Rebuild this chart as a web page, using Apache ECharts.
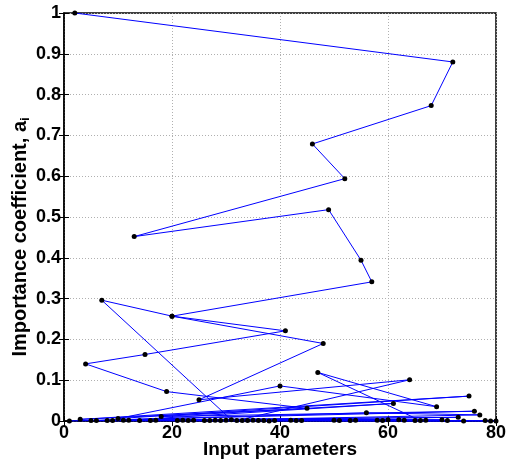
<!DOCTYPE html>
<html>
<head>
<meta charset="utf-8">
<title>Importance coefficient</title>
<script src="https://cdn.jsdelivr.net/npm/echarts@6/dist/echarts.min.js"></script>
<style>
  html, body { margin: 0; padding: 0; background: #fff; }
  #chart { width: 506px; height: 460px; }
</style>
</head>
<body>
<div id="chart"></div>
<script>
// input parameter index, in plotting order
var paramIndex = [
  2, 72, 68, 46, 52, 13, 49, 55, 57, 20,
  41, 15, 4, 19, 45, 3, 75, 10, 40, 69,
  47, 66, 1, 76, 18, 61, 12, 32, 64, 25,
  48, 20, 7, 31, 77, 56, 5, 73, 8, 74,
  28, 80, 6, 62, 9, 79, 11, 70, 14, 63,
  16, 78, 17, 67, 21, 65, 22, 71, 23, 60,
  24, 59, 26, 58, 27, 54, 29, 53, 30, 51,
  33, 50, 34, 44, 35, 43, 36, 42, 37, 39, 38
];
// importance coefficient a_i
var importance = [
  1.000, 0.880, 0.773, 0.679, 0.594, 0.452, 0.518, 0.394, 0.341, 0.257,
  0.221, 0.163, 0.140, 0.072, 0.031, 0.004, 0.061, 0.006, 0.086, 0.035,
  0.119, 0.001, 0.000, 0.024, 0.011, 0.043, 0.002, 0.001, 0.101, 0.052,
  0.190, 0.257, 0.296, 0.003, 0.015, 0.020, 0.001, 0.009, 0.001, 0.000,
  0.002, 0.000, 0.001, 0.003, 0.001, 0.000, 0.002, 0.003, 0.001, 0.002,
  0.001, 0.001, 0.002, 0.002, 0.001, 0.001, 0.002, 0.001, 0.001, 0.003,
  0.002, 0.001, 0.001, 0.002, 0.001, 0.002, 0.001, 0.001, 0.002, 0.001,
  0.001, 0.002, 0.001, 0.001, 0.002, 0.001, 0.001, 0.002, 0.001, 0.001, 0.000
];

var points = paramIndex.map(function (x, i) { return [x, importance[i]]; });

var chart = echarts.init(document.getElementById('chart'));
var font = 'Liberation Sans, Arial, sans-serif';
var tickStyle = { inside: true, length: 5, lineStyle: { color: '#000', width: 1 } };

chart.setOption({
  animation: false,
  backgroundColor: '#fff',
  grid: {
    left: 64, right: 10, top: 13, bottom: 39,
    outerBoundsMode: 'none', containLabel: false,
    show: true, borderColor: '#000', borderWidth: 1.5
  },
  xAxis: [{
    type: 'value', min: 0, max: 80, interval: 20,
    name: 'Input parameters', nameLocation: 'middle', nameGap: 19, nameMoveOverlap: false,
    nameTextStyle: { fontFamily: font, fontWeight: 'bold', fontSize: 19, color: '#000' },
    axisLine: { lineStyle: { color: '#000', width: 1.5 } },
    axisTick: tickStyle,
    axisLabel: { fontFamily: font, fontWeight: 'bold', fontSize: 18, color: '#000', margin: 3 },
    splitLine: { show: true, lineStyle: { color: '#b0b0b0', type: [1, 2] } }
  }, {
    type: 'value', min: 0, max: 80, interval: 20, position: 'top',
    axisLine: { show: false }, axisTick: tickStyle, axisLabel: { show: false }, splitLine: { show: false }
  }],
  yAxis: [{
    type: 'value', min: 0, max: 1, interval: 0.1,
    name: '{a|Importance coefficient, a}{s|i}', nameLocation: 'middle', nameGap: 32, nameMoveOverlap: false,
    nameTextStyle: {
      fontFamily: font, fontWeight: 'bold', fontSize: 20, color: '#000',
      padding: [0, 40, 0, 0],
      rich: {
        a: { fontFamily: font, fontWeight: 'bold', fontSize: 20, color: '#000' },
        s: { fontFamily: font, fontWeight: 'bold', fontSize: 13, color: '#000', verticalAlign: 'bottom', padding: [10, 0, 0, 0] }
      }
    },
    axisLine: { lineStyle: { color: '#000', width: 1.5 } },
    axisTick: tickStyle,
    axisLabel: { fontFamily: font, fontWeight: 'bold', fontSize: 18, color: '#000', margin: 3 },
    splitLine: { show: true, lineStyle: { color: '#b0b0b0', type: [1, 2] } }
  }, {
    type: 'value', min: 0, max: 1, interval: 0.1, position: 'right',
    axisLine: { show: false }, axisTick: tickStyle, axisLabel: { show: false }, splitLine: { show: false }
  }],
  series: [{
    type: 'line',
    data: points,
    symbol: 'circle',
    symbolSize: 5,
    showAllSymbol: true,
    itemStyle: { color: '#000' },
    lineStyle: { color: '#0000ff', width: 1 },
    z: 3
  }]
});
</script>
</body>
</html>
